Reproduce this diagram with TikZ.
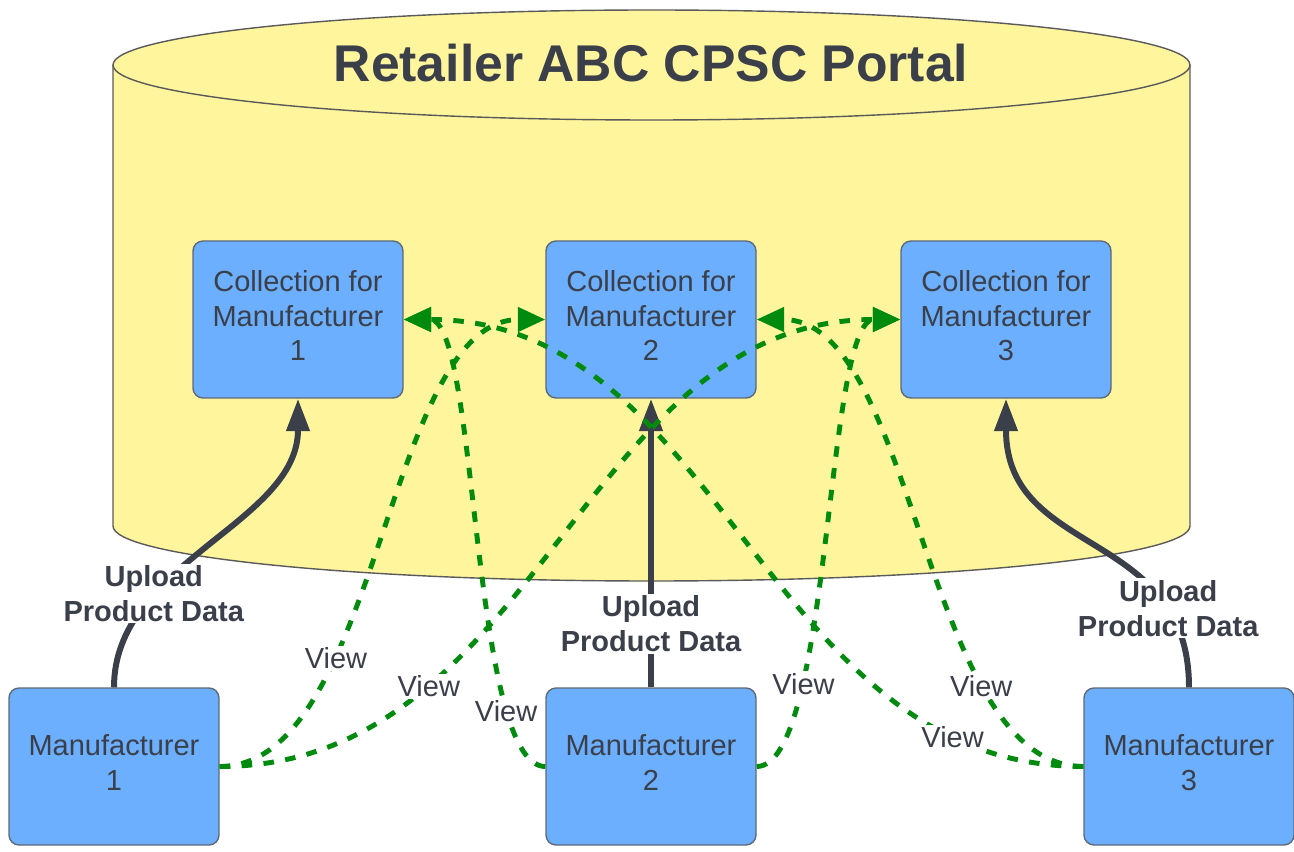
\documentclass[tikz,border=0pt]{standalone}
\usepackage{fontspec}
\setmainfont{Liberation Sans}
\usetikzlibrary{arrows.meta}
\definecolor{portalyellow}{RGB}{255,245,157}
\definecolor{portaledge}{RGB}{90,90,90}
\definecolor{boxblue}{RGB}{108,175,254}
\definecolor{boxedge}{RGB}{95,105,120}
\definecolor{inkgray}{RGB}{58,63,74}
\definecolor{viewgreen}{RGB}{0,138,14}

\begin{document}
\begin{tikzpicture}[
  bluebox/.style={draw=boxedge, line width=0.8pt, fill=boxblue, rounded corners=0.2cm,
    minimum width=4.2cm, minimum height=3.14cm, align=center, text=inkgray,
    text depth=4.5pt, font=\fontsize{16.5}{19.8}\selectfont},
  upload/.style={draw=inkgray, line width=3.4pt, -{Triangle[length=0.65cm,width=0.45cm]}},
  uploadlabel/.style={fill=white, inner sep=1pt, align=center, text=inkgray,
    font=\bfseries\fontsize{16.5}{19.8}\selectfont},
  viewline/.style={draw=viewgreen, line width=2.8pt, dash pattern=on 6pt off 6.5pt,
    -{Triangle[length=0.55cm,width=0.48cm]}},
  viewlabel/.style={fill=white, inner sep=1pt, text=inkgray,
    font=\fontsize{16.5}{19.8}\selectfont}
]
  \useasboundingbox (0,0) rectangle (25.88,17.02);

  % Portal cylinder
  \filldraw[fill=portalyellow, draw=portaledge, line width=0.8pt]
    (2.26,15.72) -- (2.26,6.5)
    arc[start angle=180, end angle=360, x radius=10.77, y radius=1.1]
    -- (23.80,15.72);
  \filldraw[fill=portalyellow, draw=portaledge, line width=0.8pt]
    (13.03,15.72) ellipse [x radius=10.77, y radius=1.1];
  \node[text=inkgray, font=\bfseries\fontsize{29.4}{35}\selectfont] (portal) at (13.02,15.76)
    {Retailer ABC CPSC Portal};

  % Collections inside the portal
  \node[bluebox] (coll1) at (5.96,10.63) {Collection for\\Manufacturer\\1};
  \node[bluebox] (coll2) at (13.02,10.63) {Collection for\\Manufacturer\\2};
  \node[bluebox] (coll3) at (20.12,10.63) {Collection for\\Manufacturer\\3};

  % Manufacturers
  \node[bluebox] (mfr1) at (2.28,1.69) {Manufacturer\\1};
  \node[bluebox] (mfr2) at (13.02,1.69) {Manufacturer\\2};
  \node[bluebox] (mfr3) at (23.78,1.69) {Manufacturer\\3};

  % Uploads
  \draw[upload] (mfr1.north) .. controls +(0,2.5) and +(0,-2.5) .. (coll1.south)
    node[uploadlabel, pos=0.3] (up1) {Upload\\Product Data};
  \draw[upload] (mfr2.north) -- (coll2.south)
    node[uploadlabel, pos=0.22] (up2) {Upload\\Product Data};
  \draw[upload] (mfr3.north) .. controls +(0,3.2) and +(0,-3.2) .. (coll3.south)
    node[uploadlabel, pos=0.21] (up3) {Upload\\Product Data};

  % Views of the other collections
  \draw[viewline] (mfr1.east) .. controls +(3.2,0) and +(-3.2,0) .. (coll2.west)
    node[viewlabel, pos=0.32] (view12) {View};
  \draw[viewline] (mfr1.east) .. controls +(6.4,0) and +(-6.4,0) .. (coll3.west)
    node[viewlabel, pos=0.27] (view13) {View};
  \draw[viewline] (mfr2.west) .. controls +(-1.5,0) and +(1.5,0) .. (coll1.east)
    node[viewlabel, pos=0.22] (view21) {View};
  \draw[viewline] (mfr2.east) .. controls +(1.5,0) and +(-1.5,0) .. (coll3.west)
    node[viewlabel, pos=0.275] (view23) {View};
  \draw[viewline] (mfr3.west) .. controls +(-6.4,0) and +(6.4,0) .. (coll1.east)
    node[viewlabel, pos=0.155] (view31) {View};
  \draw[viewline] (mfr3.west) .. controls +(-3.2,0) and +(3.2,0) .. (coll2.east)
    node[viewlabel, pos=0.27] (view32) {View};
\end{tikzpicture}
\end{document}
